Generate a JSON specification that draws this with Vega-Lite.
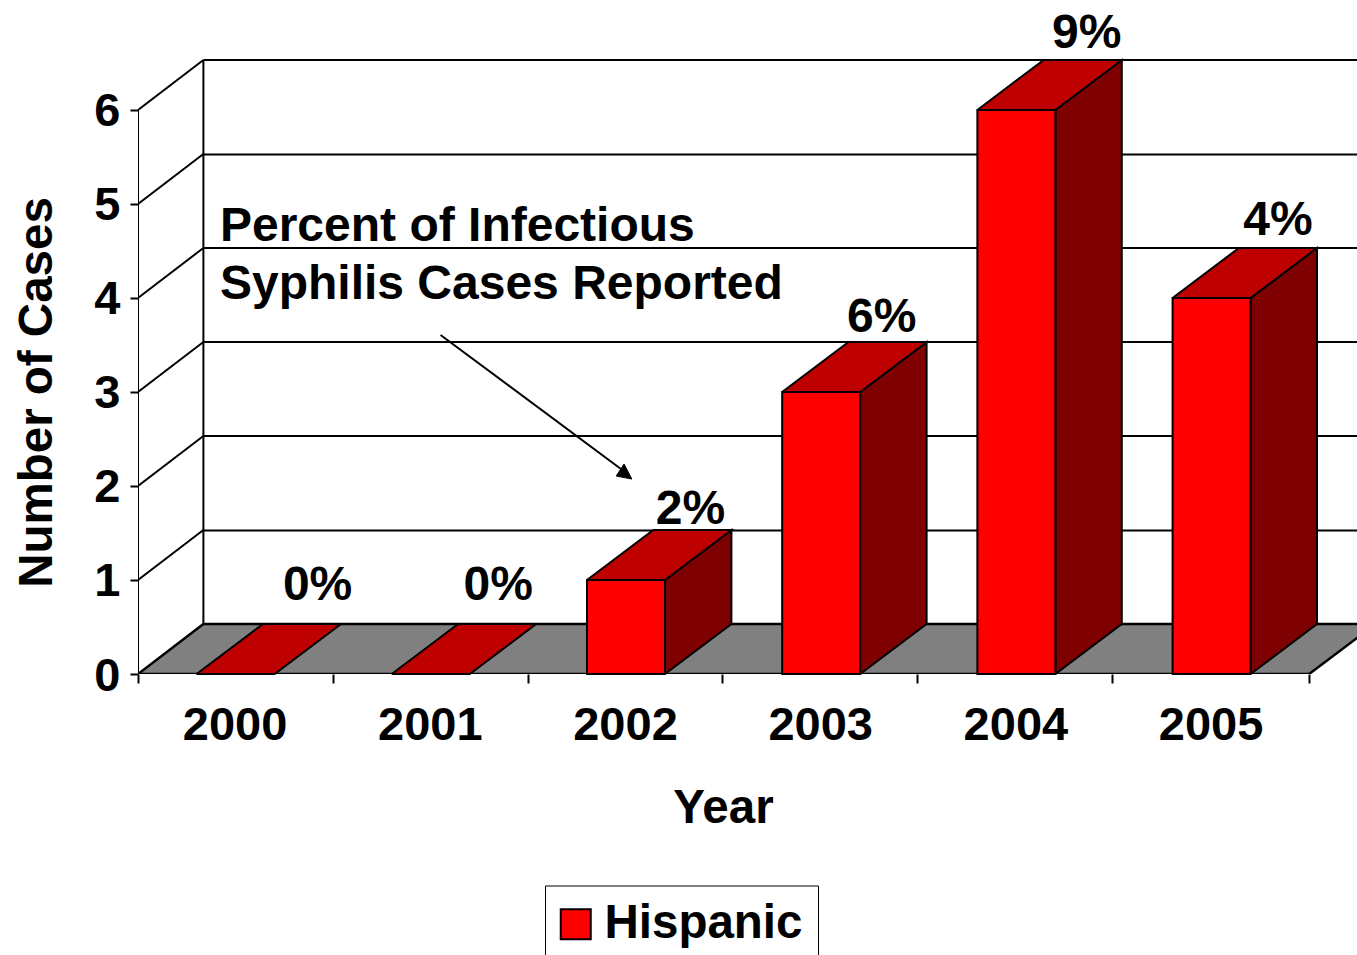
{"$schema":"https://vega.github.io/schema/vega-lite/v6.json","width":1219,"height":674,"autosize":{"type":"none"},"padding":{"left":138,"top":0,"right":0,"bottom":281},"background":"white","config":{"view":{"stroke":null},"font":"Liberation Sans","text":{"font":"Liberation Sans"}},"datasets":{"bars":[{"year":2000,"cases":0,"group":"Hispanic"},{"year":2001,"cases":0,"group":"Hispanic"},{"year":2002,"cases":1,"group":"Hispanic"},{"year":2003,"cases":3,"group":"Hispanic"},{"year":2004,"cases":6,"group":"Hispanic"},{"year":2005,"cases":4,"group":"Hispanic"}],"labels":[{"x":2000.42,"y":0.787,"text":"0%"},{"x":2001.345,"y":0.787,"text":"0%"},{"x":2002.33,"y":1.595,"text":"2%"},{"x":2003.31,"y":3.638,"text":"6%"},{"x":2004.36,"y":6.659,"text":"9%"},{"x":2005.34,"y":4.67,"text":"4%"},{"x":1999.92,"y":4.606,"text":"Percent of Infectious","anchor":"start"},{"x":1999.92,"y":3.989,"text":"Syphilis Cases Reported","anchor":"start"}],"frame":[{"id":"back","i":0,"x":1999.835,"y":0.532},{"id":"back","i":1,"x":1999.835,"y":6.532},{"id":"front","i":0,"x":1999.5,"y":0},{"id":"front","i":1,"x":1999.5,"y":6},{"id":"base","i":0,"x":1999.5,"y":0},{"id":"base","i":1,"x":2005.5,"y":0},{"id":"w1","i":0,"x":1999.5,"y":1},{"id":"w1","i":1,"x":1999.835,"y":1.532},{"id":"w2","i":0,"x":1999.5,"y":2},{"id":"w2","i":1,"x":1999.835,"y":2.532},{"id":"w3","i":0,"x":1999.5,"y":3},{"id":"w3","i":1,"x":1999.835,"y":3.532},{"id":"w4","i":0,"x":1999.5,"y":4},{"id":"w4","i":1,"x":1999.835,"y":4.532},{"id":"w5","i":0,"x":1999.5,"y":5},{"id":"w5","i":1,"x":1999.835,"y":5.532},{"id":"w6","i":0,"x":1999.5,"y":6},{"id":"w6","i":1,"x":1999.835,"y":6.532},{"id":"g1","i":0,"x":1999.835,"y":1.527},{"id":"g1","i":1,"x":2005.75,"y":1.527},{"id":"g2","i":0,"x":1999.835,"y":2.532},{"id":"g2","i":1,"x":2005.75,"y":2.532},{"id":"g3","i":0,"x":1999.835,"y":3.532},{"id":"g3","i":1,"x":2005.75,"y":3.532},{"id":"g4","i":0,"x":1999.835,"y":4.532},{"id":"g4","i":1,"x":2005.75,"y":4.532},{"id":"g5","i":0,"x":1999.835,"y":5.527},{"id":"g5","i":1,"x":2005.75,"y":5.527},{"id":"g6","i":0,"x":1999.835,"y":6.532},{"id":"g6","i":1,"x":2005.75,"y":6.532}],"arrow":[{"i":0,"x":2001.05,"y":3.606},{"i":1,"x":2001.995,"y":2.149}],"arrowhead":[{"i":0,"x":2002.03,"y":2.074},{"i":1,"x":2001.95,"y":2.106},{"i":2,"x":2001.99,"y":2.234},{"i":3,"x":2002.03,"y":2.074}],"floor":[{"i":0,"x":1999.5,"y":0},{"i":1,"x":1999.835,"y":0.532},{"i":2,"x":2005.84,"y":0.532},{"i":3,"x":2005.5,"y":0},{"i":4,"x":1999.5,"y":0}],"sides":[{"year":2002,"i":0,"x":2002.2,"y":0},{"year":2002,"i":1,"x":2002.54,"y":0.532},{"year":2002,"i":2,"x":2002.54,"y":1.532},{"year":2002,"i":3,"x":2002.2,"y":1},{"year":2002,"i":4,"x":2002.2,"y":0},{"year":2003,"i":0,"x":2003.2,"y":0},{"year":2003,"i":1,"x":2003.54,"y":0.532},{"year":2003,"i":2,"x":2003.54,"y":3.532},{"year":2003,"i":3,"x":2003.2,"y":3},{"year":2003,"i":4,"x":2003.2,"y":0},{"year":2004,"i":0,"x":2004.2,"y":0},{"year":2004,"i":1,"x":2004.54,"y":0.532},{"year":2004,"i":2,"x":2004.54,"y":6.532},{"year":2004,"i":3,"x":2004.2,"y":6},{"year":2004,"i":4,"x":2004.2,"y":0},{"year":2005,"i":0,"x":2005.2,"y":0},{"year":2005,"i":1,"x":2005.54,"y":0.532},{"year":2005,"i":2,"x":2005.54,"y":4.532},{"year":2005,"i":3,"x":2005.2,"y":4},{"year":2005,"i":4,"x":2005.2,"y":0}],"tops":[{"year":2000,"i":0,"x":1999.8,"y":0},{"year":2000,"i":1,"x":2000.2,"y":0},{"year":2000,"i":2,"x":2000.54,"y":0.532},{"year":2000,"i":3,"x":2000.14,"y":0.532},{"year":2000,"i":4,"x":1999.8,"y":0},{"year":2001,"i":0,"x":2000.8,"y":0},{"year":2001,"i":1,"x":2001.2,"y":0},{"year":2001,"i":2,"x":2001.54,"y":0.532},{"year":2001,"i":3,"x":2001.14,"y":0.532},{"year":2001,"i":4,"x":2000.8,"y":0},{"year":2002,"i":0,"x":2001.8,"y":1},{"year":2002,"i":1,"x":2002.2,"y":1},{"year":2002,"i":2,"x":2002.54,"y":1.532},{"year":2002,"i":3,"x":2002.14,"y":1.532},{"year":2002,"i":4,"x":2001.8,"y":1},{"year":2003,"i":0,"x":2002.8,"y":3},{"year":2003,"i":1,"x":2003.2,"y":3},{"year":2003,"i":2,"x":2003.54,"y":3.532},{"year":2003,"i":3,"x":2003.14,"y":3.532},{"year":2003,"i":4,"x":2002.8,"y":3},{"year":2004,"i":0,"x":2003.8,"y":6},{"year":2004,"i":1,"x":2004.2,"y":6},{"year":2004,"i":2,"x":2004.54,"y":6.532},{"year":2004,"i":3,"x":2004.14,"y":6.532},{"year":2004,"i":4,"x":2003.8,"y":6},{"year":2005,"i":0,"x":2004.8,"y":4},{"year":2005,"i":1,"x":2005.2,"y":4},{"year":2005,"i":2,"x":2005.54,"y":4.532},{"year":2005,"i":3,"x":2005.14,"y":4.532},{"year":2005,"i":4,"x":2004.8,"y":4}]},"resolve":{"axis":{"x":"independent"}},"layer":[{"data":{"name":"frame"},"mark":{"type":"line","stroke":"black","strokeWidth":2,"clip":true},"encoding":{"x":{"field":"x","type":"quantitative","scale":{"domain":[1999.5,2005.745],"nice":false,"zero":false,"padding":0},"axis":{"orient":"bottom","values":[1999.5,2000.5,2001.5,2002.49,2003.49,2004.49,2005.5],"labels":false,"domain":false,"grid":false,"ticks":true,"tickSize":9,"tickColor":"black","tickWidth":2,"title":null}},"y":{"field":"y","type":"quantitative","scale":{"domain":[0,7.17],"nice":false,"zero":false,"padding":0},"axis":{"values":[0,1,2,3,4,5,6],"format":"d","domain":false,"grid":false,"tickSize":8,"tickColor":"black","tickWidth":2,"labelFont":"Liberation Sans","labelFontWeight":"bold","labelFontSize":47,"labelColor":"black","labelPadding":10,"labelOffset":2,"title":"Number of Cases","titleFont":"Liberation Sans","titleFontWeight":"bold","titleFontSize":47.5,"titleColor":"black","titleX":-87,"titleY":392,"titleAngle":-90,"titleAlign":"center","titleBaseline":"alphabetic"}},"detail":{"field":"id"},"order":{"field":"i"}}},{"data":{"name":"floor"},"mark":{"type":"line","fill":"#808080","stroke":"black","strokeWidth":2.5,"clip":true},"encoding":{"x":{"field":"x","type":"quantitative","axis":null},"y":{"field":"y","type":"quantitative"},"order":{"field":"i"}}},{"data":{"name":"sides"},"mark":{"type":"line","fill":"#7f0000","stroke":"black","strokeWidth":2},"encoding":{"x":{"field":"x","type":"quantitative","axis":null},"y":{"field":"y","type":"quantitative"},"detail":{"field":"year"},"order":{"field":"i"}}},{"data":{"name":"tops"},"mark":{"type":"line","fill":"#bf0000","stroke":"black","strokeWidth":2},"encoding":{"x":{"field":"x","type":"quantitative","axis":null},"y":{"field":"y","type":"quantitative"},"detail":{"field":"year"},"order":{"field":"i"}}},{"data":{"name":"bars"},"mark":{"type":"bar","width":78,"stroke":"black","strokeWidth":2},"encoding":{"x":{"field":"year","type":"quantitative","axis":{"orient":"bottom","values":[2000,2001,2002,2003,2004,2005],"format":"d","domain":false,"grid":false,"ticks":false,"labelFont":"Liberation Sans","labelFontWeight":"bold","labelFontSize":47,"labelColor":"black","labelPadding":28,"labelOffset":-1,"title":"Year","titleFont":"Liberation Sans","titleFontWeight":"bold","titleFontSize":47.5,"titleColor":"black","titleX":585,"titleY":148,"titleAlign":"center","titleBaseline":"alphabetic"}},"y":{"field":"cases","type":"quantitative"},"color":{"field":"group","type":"nominal","scale":{"domain":["Hispanic"],"range":["#ff0000"]},"legend":{"title":null,"orient":"none","legendX":407,"legendY":885.5,"padding":15,"strokeColor":"black","fillColor":"white","symbolType":"square","symbolSize":900,"symbolStrokeColor":"black","symbolStrokeWidth":2,"symbolOpacity":1,"symbolOffset":-8,"labelFont":"Liberation Sans","labelFontWeight":"bold","labelFontSize":47.5,"labelColor":"black","labelOffset":5,"labelLimit":400}}}},{"data":{"name":"arrow"},"mark":{"type":"line","stroke":"black","strokeWidth":2},"encoding":{"x":{"field":"x","type":"quantitative","axis":null},"y":{"field":"y","type":"quantitative"},"order":{"field":"i"}}},{"data":{"name":"arrowhead"},"mark":{"type":"line","fill":"black","stroke":"black","strokeWidth":1},"encoding":{"x":{"field":"x","type":"quantitative","axis":null},"y":{"field":"y","type":"quantitative"},"order":{"field":"i"}}},{"data":{"name":"labels"},"transform":[{"filter":"datum.anchor != 'start'"}],"mark":{"type":"text","font":"Liberation Sans","fontWeight":"bold","fontSize":48,"color":"black","align":"center","baseline":"alphabetic"},"encoding":{"x":{"field":"x","type":"quantitative","axis":null},"y":{"field":"y","type":"quantitative"},"text":{"field":"text"}}},{"data":{"name":"labels"},"transform":[{"filter":"datum.anchor == 'start'"}],"mark":{"type":"text","font":"Liberation Sans","fontWeight":"bold","fontSize":48,"color":"black","align":"left","baseline":"alphabetic"},"encoding":{"x":{"field":"x","type":"quantitative","axis":null},"y":{"field":"y","type":"quantitative"},"text":{"field":"text"}}}]}
